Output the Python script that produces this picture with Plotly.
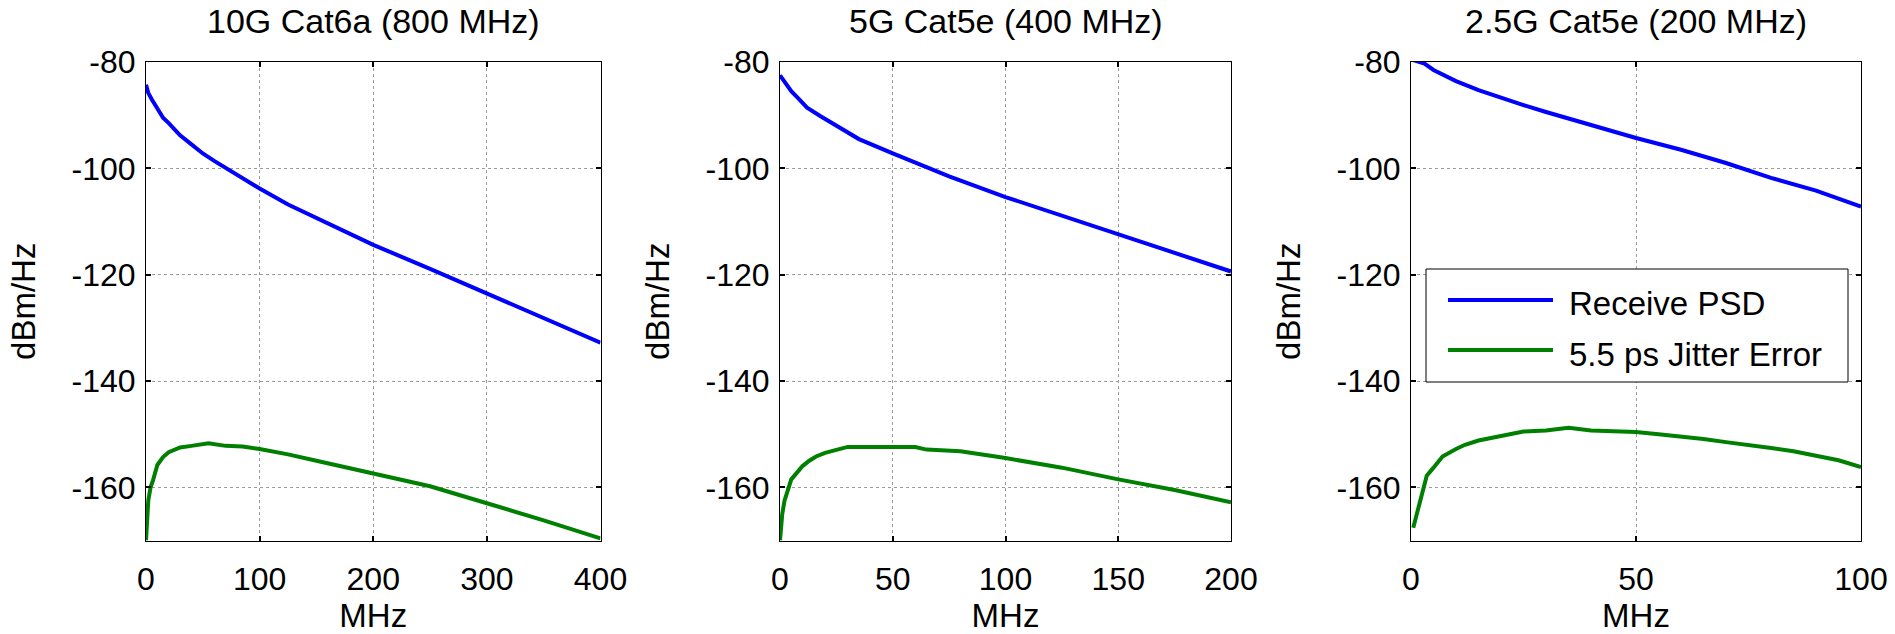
import plotly.graph_objects as go

W, H = 1895, 634

titles = ["10G Cat6a (800 MHz)", "5G Cat5e (400 MHz)", "2.5G Cat5e (200 MHz)"]
x_max = [400, 200, 100]
x_dtick = [100, 50, 50]
y_ticks = [-80, -100, -120, -140, -160]
y_range = [-170, -80]
series_names = ["Receive PSD", "5.5 ps Jitter Error"]

# Panel 1: 10G Cat6a
p1_psd_x = [0, 2, 5, 10, 15, 20, 30, 40, 50, 60, 80, 100, 125, 150, 175, 200, 250, 300, 350, 400]
p1_psd_y = [-84.3, -85.8, -87.0, -88.8, -90.5, -91.5, -93.8, -95.5, -97.2, -98.6, -101.3, -103.8,
            -106.8, -109.3, -111.9, -114.4, -118.9, -123.6, -128.3, -132.8]
p1_jit_x = [0, 1, 2, 4, 6, 10, 15, 20, 25, 30, 40, 55, 70, 85, 100, 125, 150, 175, 200, 250, 300, 350, 400]
p1_jit_y = [-170, -165.5, -162.5, -160, -158.8, -155.8, -154.3, -153.4, -152.9, -152.5, -152.2, -151.7,
            -152.2, -152.3, -152.8, -153.8, -155.0, -156.2, -157.5, -159.8, -163.0, -166.2, -169.6]

# Panel 2: 5G Cat5e
p2_psd_x = [0, 2, 5, 8, 12, 18, 25, 35, 50, 60, 75, 100, 125, 150, 175, 200]
p2_psd_y = [-82.5, -83.7, -85.5, -86.8, -88.6, -90.2, -92.0, -94.5, -97.2, -98.9, -101.5, -105.4,
            -108.9, -112.5, -115.9, -119.4]
p2_jit_x = [0, 0.5, 1, 2, 3, 5, 8, 10, 13, 16, 20, 25, 30, 45, 60, 65, 80, 100, 125, 150, 175, 200]
p2_jit_y = [-170, -167, -165, -162.5, -161, -158.5, -157, -156, -155, -154.2, -153.5, -153, -152.4,
            -152.4, -152.4, -152.9, -153.2, -154.5, -156.3, -158.5, -160.5, -162.8]

# Panel 3: 2.5G Cat5e
p3_psd_x = [0, 3, 5, 8, 10, 15, 20, 25, 30, 40, 50, 60, 70, 80, 90, 100]
p3_psd_y = [-79.5, -80.3, -81.5, -82.8, -83.6, -85.3, -86.8, -88.1, -89.4, -91.9, -94.3, -96.5,
            -99.0, -101.8, -104.2, -107.2]
p3_jit_x = [0.5, 1, 2, 3.5, 5, 7, 10, 12, 15, 18, 22, 25, 30, 35, 40, 50, 55, 60, 65, 70, 75, 80,
            85, 90, 95, 100]
p3_jit_y = [-167.6, -166, -162.5, -157.8, -156.3, -154.2, -152.8, -152, -151.2, -150.7, -150, -149.5,
            -149.3, -148.8, -149.3, -149.6, -150, -150.4, -150.9, -151.5, -152, -152.6, -153.2, -154,
            -154.9, -156.2]

panels = [
    (p1_psd_x, p1_psd_y, p1_jit_x, p1_jit_y),
    (p2_psd_x, p2_psd_y, p2_jit_x, p2_jit_y),
    (p3_psd_x, p3_psd_y, p3_jit_x, p3_jit_y),
]

# pixel boxes of the three axes (left, right); top/bottom shared
px_lr = [(146, 600.5), (780, 1231), (1411, 1861)]
px_top, px_bot = 62, 540.5

FONT = "Liberation Sans, Arial, sans-serif"
BLUE = "#0000FF"
GREEN = "#008000"
LW = 4

def px(x):
    return x / W

def py(y):
    return 1 - y / H

fig = go.Figure()
layout = dict(
    width=W, height=H,
    margin=dict(l=0, r=0, t=0, b=0),
    paper_bgcolor="white", plot_bgcolor="white",
    font=dict(family=FONT, size=32, color="black"),
    showlegend=False,
    annotations=[],
    shapes=[],
)

for i, (ppx, ppy, jx, jy) in enumerate(panels):
    n = "" if i == 0 else str(i + 1)
    xa, ya = "x" + n, "y" + n
    fig.add_trace(go.Scatter(x=ppx, y=ppy, mode="lines", name=series_names[0],
                             line=dict(color=BLUE, width=LW), xaxis=xa, yaxis=ya))
    fig.add_trace(go.Scatter(x=jx, y=jy, mode="lines", name=series_names[1],
                             line=dict(color=GREEN, width=LW), xaxis=xa, yaxis=ya))
    l, r = px_lr[i]
    common = dict(
        showline=True, linecolor="black", linewidth=1, mirror="allticks",
        ticks="inside", ticklen=5, tickwidth=2, tickcolor="black",
        showgrid=True, gridcolor="#9a9a9a", gridwidth=1, griddash="dot",
        zeroline=False, automargin=False,
        tickfont=dict(size=32, family=FONT, color="black"),
    )
    layout["xaxis" + n] = dict(
        common, domain=[px(l), px(r)], anchor=ya, range=[0, x_max[i]],
        tick0=0, dtick=x_dtick[i], ticklabelstandoff=10,
        title=dict(text="MHz", font=dict(size=33, family=FONT), standoff=13),
    )
    layout["yaxis" + n] = dict(
        common, domain=[py(px_bot), py(px_top)], anchor=xa, range=y_range,
        tickvals=y_ticks, ticktext=[str(v) for v in y_ticks], ticklabelstandoff=3,
        title=dict(text="dBm/Hz", font=dict(size=33, family=FONT), standoff=26),
    )
    layout["annotations"].append(dict(
        text=titles[i], x=px((l + r) / 2), y=py(21), xref="paper", yref="paper",
        xanchor="center", yanchor="middle", showarrow=False,
        font=dict(size=34, family=FONT, color="black"),
    ))

# MATLAB-style legend box inside the third panel
leg_l, leg_r, leg_t, leg_b = 1426, 1848, 269, 382
layout["shapes"].append(dict(
    type="rect", xref="paper", yref="paper", layer="above",
    x0=px(leg_l), x1=px(leg_r), y0=py(leg_b), y1=py(leg_t),
    line=dict(color="black", width=1), fillcolor="white",
))
leg_rows = [(300, 303, BLUE), (350, 354, GREEN)]
for (ly, ty, col), name in zip(leg_rows, series_names):
    layout["shapes"].append(dict(
        type="line", xref="paper", yref="paper", layer="above",
        x0=px(1448), x1=px(1553), y0=py(ly), y1=py(ly),
        line=dict(color=col, width=LW),
    ))
    layout["annotations"].append(dict(
        text=name, x=px(1567), y=py(ty), xref="paper", yref="paper",
        xanchor="left", yanchor="middle", showarrow=False,
        font=dict(size=33, family=FONT, color="black"),
    ))

fig.update_layout(**layout)
fig.write_html("out.html", config={"displayModeBar": False},
               post_script="document.body.style.margin='0px';")
